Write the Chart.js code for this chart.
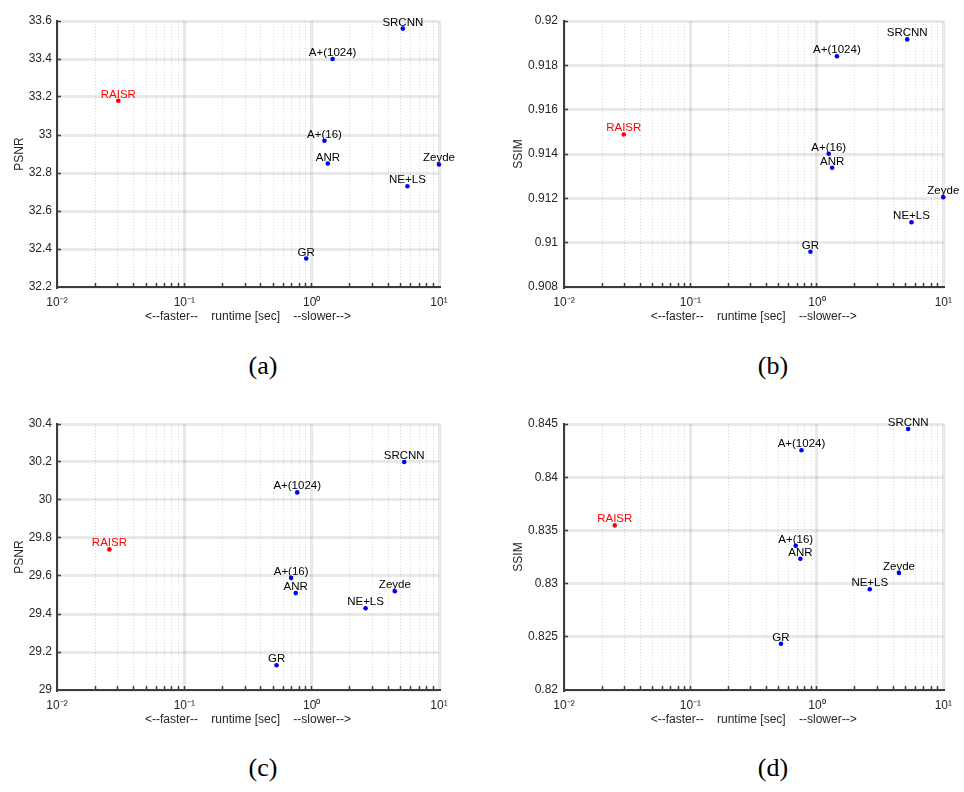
<!DOCTYPE html>
<html>
<head>
<meta charset="utf-8">
<script src="https://cdn.jsdelivr.net/npm/chart.js@4.4.1/dist/chart.umd.min.js"></script>
<style>
  body { margin: 0; width: 964px; height: 792px; background: #fff; position: relative; overflow: hidden; }
  canvas { position: absolute; }
  .cap { position: absolute; width: 200px; text-align: center; font-family: "Liberation Serif", "Times New Roman", serif; font-size: 26px; line-height: 30px; color: #000; }
</style>
</head>
<body>
<canvas id="chartA" width="482" height="340" style="left:0;top:0"></canvas>
<canvas id="chartB" width="482" height="340" style="left:482px;top:0"></canvas>
<canvas id="chartC" width="482" height="340" style="left:0;top:403px"></canvas>
<canvas id="chartD" width="482" height="340" style="left:482px;top:403px"></canvas>
<div class="cap" style="left:163px;top:351px">(a)</div>
<div class="cap" style="left:673px;top:351px">(b)</div>
<div class="cap" style="left:163px;top:753px">(c)</div>
<div class="cap" style="left:673px;top:753px">(d)</div>
<script>
// methods, same order in every panel
const methods = ['SRCNN', 'A+(1024)', 'RAISR', 'A+(16)', 'ANR', 'Zeyde', 'NE+LS', 'GR'];

// (a) PSNR
const timeA = [5.2, 1.46, 0.0303, 1.26, 1.34, 10, 5.65, 0.906];
const psnrA = [33.56, 33.40, 33.18, 32.97, 32.85, 32.845, 32.73, 32.35];
// (b) SSIM
const timeB = [5.18, 1.44, 0.0297, 1.24, 1.32, 10, 5.6, 0.89];
const ssimB = [0.91917, 0.91841, 0.91488, 0.91401, 0.91338, 0.91205, 0.91092, 0.90959];
// (c) PSNR
const timeC = [5.33, 0.77, 0.0258, 0.69, 0.75, 4.5, 2.65, 0.53];
const psnrC = [30.20, 30.04, 29.74, 29.59, 29.51, 29.52, 29.43, 29.13];
// (d) SSIM
const timeD = [5.27, 0.755, 0.0252, 0.68, 0.74, 4.46, 2.62, 0.52];
const ssimD = [0.84453, 0.84253, 0.83547, 0.83356, 0.83234, 0.8310, 0.82947, 0.82434];

// tick labels
const yTicksA = [32.2, 32.4, 32.6, 32.8, 33, 33.2, 33.4, 33.6];
const yTicksB = [0.908, 0.91, 0.912, 0.914, 0.916, 0.918, 0.92];
const yTicksC = [29, 29.2, 29.4, 29.6, 29.8, 30, 30.2, 30.4];
const yTicksD = [0.82, 0.825, 0.83, 0.835, 0.84, 0.845];
const xDecades = [0.01, 0.1, 1, 10];
const xTickLabels = ['10⁻²', '10⁻¹', '10⁰', '10¹'];
const xTitle = '<--faster--    runtime [sec]    --slower-->';

const font = '"Liberation Sans", Arial, Helvetica, sans-serif';
const textColor = '#262626';
const axisColor = '#3c3c3c';

// decade + minor grid positions (1..9 per decade)
const xGrid = [];
xDecades.forEach((d, i) => {
  if (i === xDecades.length - 1) { xGrid.push(d); return; }
  for (let m = 1; m <= 9; m++) xGrid.push(m * d);
});

const pointLabels = {
  id: 'pointLabels',
  afterDatasetsDraw(chart) {
    const ctx = chart.ctx;
    const meta = chart.getDatasetMeta(0);
    ctx.save();
    ctx.font = '11.5px ' + font;
    ctx.textAlign = 'center';
    ctx.textBaseline = 'alphabetic';
    meta.data.forEach((pt, i) => {
      ctx.fillStyle = methods[i] === 'RAISR' ? '#ff0000' : '#000000';
      ctx.fillText(methods[i], pt.x, pt.y - 3);
    });
    ctx.restore();
  }
};

function makeChart(id, xs, ys, yTicks, yTitle, yWidth, padRight, yTitlePad, yTickPad) {
  const pts = xs.map((x, i) => ({ x: x, y: ys[i] }));
  const colors = methods.map(m => m === 'RAISR' ? '#ff0000' : '#0000ff');
  return new Chart(document.getElementById(id), {
    type: 'scatter',
    data: {
      datasets: [{
        data: pts,
        pointRadius: 2.3,
        pointBorderWidth: 0,
        pointBackgroundColor: colors,
        pointBorderColor: colors,
        clip: false
      }]
    },
    options: {
      responsive: false,
      animation: false,
      layout: { padding: { left: 0, right: padRight, top: 21, bottom: 0 } },
      plugins: { legend: { display: false }, tooltip: { enabled: false } },
      scales: {
        x: {
          type: 'logarithmic',
          min: xDecades[0],
          max: xDecades[xDecades.length - 1],
          afterBuildTicks: s => { s.ticks = xGrid.map(v => ({ value: v })); },
          afterFit: s => { s.height = 53; },
          ticks: {
            autoSkip: false,
            maxRotation: 0,
            padding: 12,
            color: textColor,
            font: { family: font, size: 12 },
            callback: (v, i) => i % 9 === 0 ? xTickLabels[i / 9] : ''
          },
          grid: {
            drawTicks: true,
            tickLength: -4,
            tickWidth: 1.5,
            tickColor: c => (c.index === 0 || c.index === xGrid.length - 1) ? 'rgba(0,0,0,0)' : axisColor,
            color: c => c.index % 9 === 0 ? 'rgba(0,0,0,0.085)' : 'rgba(0,0,0,0.14)',
            lineWidth: c => c.index % 9 === 0 ? 3 : 1
          },
          border: {
            color: axisColor,
            width: 2,
            dash: c => (c.tick && c.index % 9 !== 0) ? [1, 2] : []
          },
          title: {
            display: true,
            text: xTitle,
            color: textColor,
            font: { family: font, size: 12 },
            padding: { top: 0, bottom: 16 }
          }
        },
        y: {
          type: 'linear',
          min: yTicks[0],
          max: yTicks[yTicks.length - 1],
          afterBuildTicks: s => { s.ticks = yTicks.map(v => ({ value: v })); },
          afterFit: s => { s.width = yWidth; },
          ticks: {
            padding: yTickPad + 4,
            color: textColor,
            font: { family: font, size: 12 },
            callback: v => String(+v.toFixed(4))
          },
          grid: {
            drawTicks: true,
            tickLength: -4,
            tickWidth: 1.5,
            tickColor: c => c.index === 0 ? 'rgba(0,0,0,0)' : axisColor,
            color: 'rgba(0,0,0,0.085)',
            lineWidth: 3
          },
          border: { color: axisColor, width: 2 },
          title: {
            display: true,
            text: yTitle,
            color: textColor,
            font: { family: font, size: 12 },
            padding: { top: yTitlePad, bottom: 0 }
          }
        }
      }
    },
    plugins: [pointLabels]
  });
}

makeChart('chartA', timeA, psnrA, yTicksA, 'PSNR', 57, 43, 12, 5);
makeChart('chartB', timeB, ssimB, yTicksB, 'SSIM', 82, 19, 29, 6);
makeChart('chartC', timeC, psnrC, yTicksC, 'PSNR', 57, 43, 12, 5);
makeChart('chartD', timeD, ssimD, yTicksD, 'SSIM', 82, 19, 29, 6);
</script>
</body>
</html>
